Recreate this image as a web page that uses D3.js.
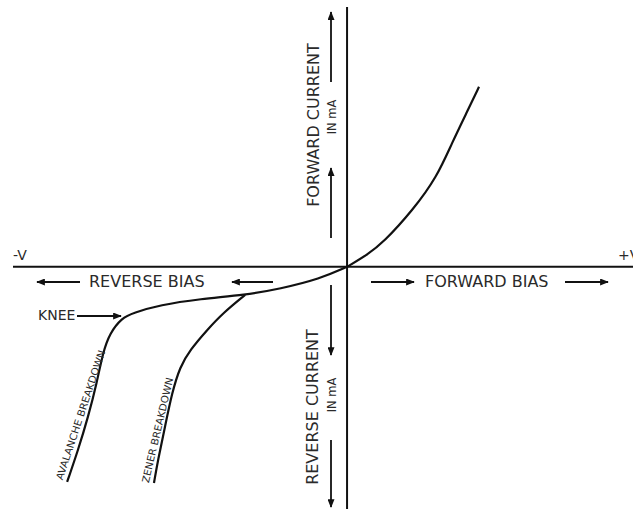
<!DOCTYPE html>
<html>
<head>
<meta charset="utf-8">
<script src="https://cdn.jsdelivr.net/npm/d3@7/dist/d3.min.js"></script>
<style>
body{margin:0;background:#fff}
svg{display:block}
text{font-family:"DejaVu Sans",sans-serif;fill:#2a2a2a}
</style>
</head>
<body>
<div id="chart"></div>
<script>
// voltage / current in arbitrary units, origin = (0,0)
var forwardV = [0, 0.60, 1.08, 1.98, 2.69, 3.14, 3.62, 3.95]
var forwardI = [0, 0.36, 0.72, 1.71, 2.69, 3.71, 4.70, 5.39]
var avalancheV = [0, -0.81, -2.01, -3.05, -4.40, -5.60, -6.41, -6.74, -7.10, -7.31, -7.49, -7.75, -8.05, -8.38]
var avalancheI = [0, -0.36, -0.66, -0.84, -0.96, -1.14, -1.38, -1.53, -1.98, -2.57, -3.47, -4.49, -5.48, -6.44]
var zenerV = [-3.05, -3.71, -4.19, -4.70, -5.00, -5.24, -5.45, -5.66, -5.78]
var zenerI = [-0.84, -1.38, -1.89, -2.49, -2.99, -3.77, -4.79, -5.78, -6.47]
var axisLabels = ["-V", "+V"]
var biasLabels = ["REVERSE BIAS", "FORWARD BIAS"]
var currentLabels = ["FORWARD CURRENT", "REVERSE CURRENT"]
var unitLabel = "IN mA"
var curveLabels = ["AVALANCHE  BREAKDOWN", "ZENER  BREAKDOWN"]
var kneeLabel = "KNEE"

var width = 633
var height = 509
var x = d3.scaleLinear().domain([-10, 8.56]).range([13, 633])
var y = d3.scaleLinear().domain([-7.25, 7.75]).range([509, 8])
var x0 = x(0), y0 = y(0)

var svg = d3.select("#chart").append("svg").attr("width",width).attr("height",height)

svg.append("defs").append("marker")
    .attr("id","head")
    .attr("viewBox","0 0 10 8")
    .attr("refX",9).attr("refY",4)
    .attr("markerWidth",9).attr("markerHeight",7)
    .attr("markerUnits","userSpaceOnUse")
    .attr("orient","auto")
    .append("path").attr("d","M0,0 L10,4 L0,8 Z").attr("fill","#111")

// axes
svg.append("line").attr("x1",13).attr("x2",width).attr("y1",y0).attr("y2",y0)
    .attr("stroke","#111").attr("stroke-width",2)
svg.append("line").attr("x1",x0).attr("x2",x0).attr("y1",7).attr("y2",height)
    .attr("stroke","#111").attr("stroke-width",2)

svg.append("text").text(axisLabels[0]).attr("x",13).attr("y",260).attr("font-size",14)
svg.append("text").text(axisLabels[1]).attr("x",618).attr("y",260).attr("font-size",14)

function arrow(x1,y1,x2,y2){
    svg.append("line").attr("x1",x1).attr("y1",y1).attr("x2",x2).attr("y2",y2)
        .attr("stroke","#111").attr("stroke-width",1.8)
        .attr("marker-end","url(#head)")
}

// bias row
arrow(80,282,37,282)
svg.append("text").text(biasLabels[0]).attr("x",89).attr("y",287).attr("font-size",16)
arrow(273,282,232,282)
arrow(371,282,414,282)
svg.append("text").text(biasLabels[1]).attr("x",425).attr("y",287).attr("font-size",16)
arrow(565,282,608,282)

// current column
arrow(331,82,331,12)
arrow(331,238,331,168)
arrow(331,285,331,355)
arrow(331,440,331,507)
svg.append("text").text(currentLabels[0]).attr("font-size",16).attr("text-anchor","middle")
    .attr("transform","translate(319,125) rotate(-90)")
svg.append("text").text(unitLabel).attr("font-size",11.5).attr("text-anchor","middle")
    .attr("transform","translate(336,117) rotate(-90)")
svg.append("text").text(currentLabels[1]).attr("font-size",16).attr("text-anchor","middle")
    .attr("transform","translate(318,407) rotate(-90)")
svg.append("text").text(unitLabel).attr("font-size",11.5).attr("text-anchor","middle")
    .attr("transform","translate(336,395) rotate(-90)")

// knee
svg.append("text").text(kneeLabel).attr("x",38).attr("y",320).attr("font-size",14)
arrow(77,316,121,316)

// curves
var line = d3.line()
    .x(function(d){return x(d[0])})
    .y(function(d){return y(d[1])})
    .curve(d3.curveBasis)

function drawCurve(vs,is){
    svg.append("path")
        .datum(d3.zip(vs,is))
        .attr("d",line)
        .attr("fill","none")
        .attr("stroke","#111")
        .attr("stroke-width",2.2)
}
drawCurve(forwardV,forwardI)
drawCurve(avalancheV,avalancheI)
drawCurve(zenerV,zenerI)

// labels along the breakdown lines
svg.append("text").text(curveLabels[0])
    .attr("font-size",10).attr("text-anchor","middle")
    .attr("textLength",136).attr("lengthAdjust","spacingAndGlyphs")
    .style("font-family","'DejaVu Sans Condensed','DejaVu Sans',sans-serif")
    .attr("transform","translate(84,416) rotate(-71.6)")
svg.append("text").text(curveLabels[1])
    .attr("font-size",10).attr("text-anchor","middle")
    .attr("textLength",108).attr("lengthAdjust","spacingAndGlyphs")
    .style("font-family","'DejaVu Sans Condensed','DejaVu Sans',sans-serif")
    .attr("transform","translate(161,431) rotate(-76.8)")
</script>
</body>
</html>
